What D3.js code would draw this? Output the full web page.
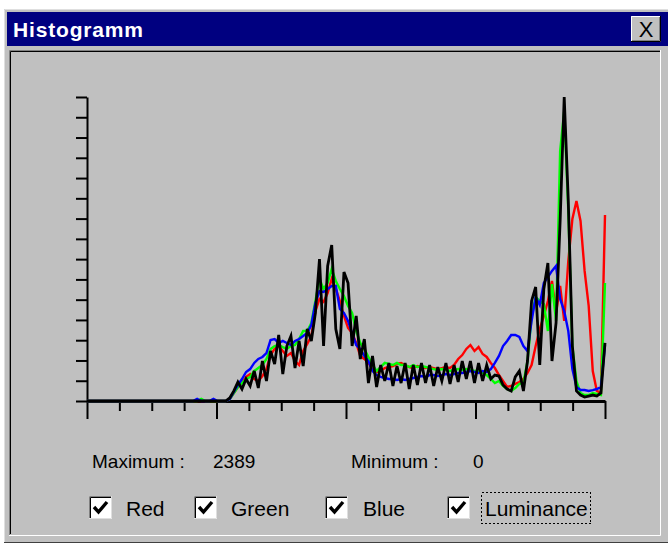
<!DOCTYPE html>
<html>
<head>
<meta charset="utf-8">
<script src="https://cdn.jsdelivr.net/npm/d3@7"></script>
<style>
    body { margin: 0; background: #ffffff; }
    svg { display: block; }
</style>
</head>
<body>
<svg id="chart"></svg>
<script>
// histogram bins (256 levels, sampled every 2nd level)
const bins = d3.range(128);

const redCounts = [
    0,0,0,0,0,0,0,0,0,0, 0,0,0,0,0,0,0,0,0,0, 0,0,0,0,0,0,0,0,0,0, 0,0,0,0,0,
    16,63,110,141,189, 212,173,157,196,251, 361,409,432,393,354, 377,314,283,393,448,
    511,707,802,778,849, 959,880,786,668,574, 534,456,354,330,299, 251,228,236,259,267,
    275,291,299,283,267, 259,275,267,259,267, 259,251,259,267,259, 283,330,361,409,440,
    393,424,369,346,299, 259,204,157,110,118, 134,149,173,220,283, 432,566,668,786,943,
    692,904,629,1100,1430, 1572,1415,1022,747,236, 79,63,1462
];
const greenCounts = [
    0,0,0,0,0,0,0,0,0,0, 0,0,0,0,0,0,0,0,0,0, 0,0,0,0,0,0,0,0,16,0, 0,0,0,0,0,
    16,63,110,141,173, 189,236,259,283,330, 409,432,440,424,409, 432,440,487,550,550,
    613,786,959,880,927, 1037,943,880,825,747, 692,550,456,409,346, 283,236,267,299,291,
    283,299,283,283,267, 283,267,275,267,259, 251,244,251,244,236, 244,251,244,251,244,
    236,236,220,204,173, 141,157,118,94,79, 102,134,141,314,660, 817,786,762,550,919,
    629,1965,2279,1493,432, 157,63,47,47,63, 55,47,927
];
const blueCounts = [
    0,0,0,0,0,0,0,0,0,0, 0,0,0,0,0,0,0,0,0,0, 0,0,0,0,0,0,0,16,0,0, 0,16,0,0,0,
    16,71,126,173,228, 251,299,330,346,377, 479,487,456,472,456, 440,472,487,511,534,
    597,770,864,857,880, 904,904,723,692,629, 534,440,409,354,314, 236,204,189,181,173,
    173,165,173,165,173, 181,189,196,189,204, 204,196,204,212,204, 212,220,220,228,236,
    228,220,236,228,251, 299,354,432,472,519, 519,503,432,393,629, 817,754,927,974,1022,
    1061,802,707,550,251, 110,86,86,79,86, 94,110,440
];
const lumCounts = [
    0,0,0,0,0,0,0,0,0,0, 0,0,0,0,0,0,0,0,0,0, 0,0,0,0,0,0,0,0,0,0, 0,0,0,0,0,
    24,79,149,94,173, 118,236,102,314,157, 393,291,519,212,432, 511,259,472,275,566,
    472,692,1116,432,1061, 1226,566,409,1014,927, 432,668,330,487,141, 354,110,283,157,299,
    118,275,141,299,94, 283,126,299,141,283, 118,267,157,299,134, 283,149,314,173,314,
    141,299,157,283,173, 204,196,126,94,79, 189,236,79,314,786, 896,283,880,1084,314,
    613,1415,2389,1572,432, 79,47,31,39,47, 39,63,456
];

const seriesNames = ["Red", "Green", "Blue", "Luminance"];
const seriesColors = ["#ff0000", "#00ff00", "#0000ff", "#000000"];
const maxValue = 2389;
const minValue = 0;

class HistogramDialog {
    constructor(_config) {
        this.config = {
            parentElement: _config.parentElement,
            containerWidth: _config.containerWidth || 668,
            containerHeight: _config.containerHeight || 547
        };
        this.plot = { left: 87, right: 605, top: 97, bottom: 401 };
    }

    initVis() {
        let vis = this;

        vis.svg = d3.select(vis.config.parentElement)
            .attr('width', vis.config.containerWidth)
            .attr('height', vis.config.containerHeight);

        vis.drawWindow();

        vis.x = d3.scaleLinear()
            .domain([0, bins.length - 1])
            .range([vis.plot.left, vis.plot.right]);
        vis.y = d3.scaleLinear()
            .domain([0, maxValue])
            .range([vis.plot.bottom, vis.plot.top]);

        vis.render();
        vis.drawFooter();
    }

    drawWindow() {
        let vis = this;
        let W = vis.config.containerWidth;

        // dialog body
        vis.svg.append('rect')
            .attr('x', 4).attr('y', 9)
            .attr('width', W - 4).attr('height', 534)
            .attr('fill', '#c0c0c0');
        vis.svg.append('path')
            .attr('d', `M4.5,543 V9.5 H${W}`)
            .attr('fill', 'none').attr('stroke', '#dfdfdf');
        vis.svg.append('path')
            .attr('d', `M4,542.5 H${W}`)
            .attr('fill', 'none').attr('stroke', '#404040');

        // title bar
        vis.svg.append('rect')
            .attr('x', 7).attr('y', 12)
            .attr('width', W - 7).attr('height', 34)
            .attr('fill', '#000080');
        vis.svg.append('text')
            .attr('x', 13).attr('y', 37)
            .attr('fill', '#ffffff')
            .attr('font-family', 'Liberation Sans, Arial, sans-serif')
            .attr('font-weight', 'bold')
            .attr('font-size', 21)
            .attr('textLength', 130)
            .text('Histogramm');

        // close button
        let bx = 631, by = 16, bw = 30, bh = 26;
        vis.svg.append('rect')
            .attr('x', bx).attr('y', by).attr('width', bw).attr('height', bh)
            .attr('fill', '#c0c0c0');
        vis.svg.append('path')
            .attr('d', `M${bx + 0.5},${by + bh} V${by + 0.5} H${bx + bw}`)
            .attr('fill', 'none').attr('stroke', '#ffffff');
        vis.svg.append('path')
            .attr('d', `M${bx},${by + bh - 0.5} H${bx + bw - 0.5} V${by}`)
            .attr('fill', 'none').attr('stroke', '#000000');
        vis.svg.append('path')
            .attr('d', `M${bx + 1},${by + bh - 1.5} H${bx + bw - 1.5} V${by + 1}`)
            .attr('fill', 'none').attr('stroke', '#808080');
        vis.svg.append('text')
            .attr('x', bx + bw / 2).attr('y', by + 21)
            .attr('text-anchor', 'middle')
            .attr('font-family', 'Liberation Sans, Arial, sans-serif')
            .attr('font-size', 22)
            .text('X');

        // sunken client edge
        vis.svg.append('path')
            .attr('d', `M9.5,535 V50.5 H${W - 7}`)
            .attr('fill', 'none').attr('stroke', '#808080');
        vis.svg.append('path')
            .attr('d', `M10.5,534 V51.5 H${W - 8}`)
            .attr('fill', 'none').attr('stroke', '#000000');
        vis.svg.append('path')
            .attr('d', `M9,535.5 H${W - 7.5} V50`)
            .attr('fill', 'none').attr('stroke', '#ffffff');
    }

    render() {
        let vis = this;

        // y axis with 16 unlabelled ticks
        let yTicks = d3.range(16).map(i => i * maxValue / 15);
        vis.svg.append('g')
            .attr('transform', `translate(${vis.plot.left},0)`)
            .call(d3.axisLeft(vis.y).tickValues(yTicks).tickSize(11).tickFormat('').tickSizeOuter(0))
            .call(g => g.select('.domain').attr('stroke-width', 2))
            .call(g => g.selectAll('.tick line').attr('stroke-width', 2));

        // x axis: 17 ticks, every 4th longer
        let xTicks = d3.range(17).map(i => i * (bins.length - 1) / 16);
        vis.svg.append('g')
            .attr('transform', `translate(0,${vis.plot.bottom})`)
            .call(d3.axisBottom(vis.x).tickValues(xTicks).tickSize(10).tickFormat('').tickSizeOuter(0))
            .call(g => g.select('.domain').attr('stroke-width', 3))
            .call(g => g.selectAll('.tick line')
                .attr('stroke-width', 2)
                .attr('y2', (d, i) => i % 4 === 0 ? 18 : 10));

        let line = d3.line()
            .x((d, i) => vis.x(bins[i]))
            .y(d => vis.y(d));

        let allSeries = [redCounts, greenCounts, blueCounts, lumCounts];
        vis.svg.append('g')
            .selectAll('path')
            .data(allSeries)
            .join('path')
            .attr('fill', 'none')
            .attr('stroke', (d, i) => seriesColors[i])
            .attr('stroke-width', (d, i) => i === 3 ? 2.8 : 2.4)
            .attr('stroke-linejoin', 'miter')
            .attr('d', d => line(d));
    }

    drawFooter() {
        let vis = this;
        let font = 'Liberation Sans, Arial, sans-serif';

        let stats = [
            { x: 92, text: 'Maximum :' },
            { x: 213, text: String(maxValue) },
            { x: 351, text: 'Minimum :' },
            { x: 473, text: String(minValue) }
        ];
        vis.svg.append('g')
            .selectAll('text')
            .data(stats)
            .join('text')
            .attr('x', d => d.x)
            .attr('y', 468)
            .attr('font-family', font)
            .attr('font-size', 19)
            .attr('fill', '#000000')
            .text(d => d.text);

        let boxX = [89, 194, 325, 447];
        let labelX = [126, 231, 363, 485];
        let boxes = vis.svg.append('g')
            .selectAll('g')
            .data(seriesNames)
            .join('g')
            .attr('transform', (d, i) => `translate(${boxX[i]},496)`);

        boxes.append('rect')
            .attr('width', 23).attr('height', 23)
            .attr('fill', '#ffffff');
        boxes.append('path')
            .attr('d', 'M0.5,23 V0.5 H23')
            .attr('fill', 'none').attr('stroke', '#808080');
        boxes.append('path')
            .attr('d', 'M1.5,22 V1.5 H22')
            .attr('fill', 'none').attr('stroke', '#000000').attr('stroke-width', 1);
        boxes.append('path')
            .attr('d', 'M0,22.5 H22.5 V0')
            .attr('fill', 'none').attr('stroke', '#dfdfdf');
        boxes.append('path')
            .attr('d', 'M5,11 L9.5,16 L18,6')
            .attr('fill', 'none').attr('stroke', '#000000').attr('stroke-width', 3.4);

        boxes.append('text')
            .attr('x', (d, i) => labelX[i] - boxX[i])
            .attr('y', 20)
            .attr('font-family', font)
            .attr('font-size', 21)
            .attr('fill', '#000000')
            .text(d => d);

        // dotted focus rectangle round the last label
        vis.svg.append('rect')
            .attr('x', 481.5).attr('y', 492.5)
            .attr('width', 109).attr('height', 31)
            .attr('fill', 'none')
            .attr('stroke', '#000000')
            .attr('stroke-dasharray', '2,2')
            .attr('shape-rendering', 'crispEdges');
    }
}

let dialog = new HistogramDialog({ parentElement: '#chart' });
dialog.initVis();
</script>
</body>
</html>
